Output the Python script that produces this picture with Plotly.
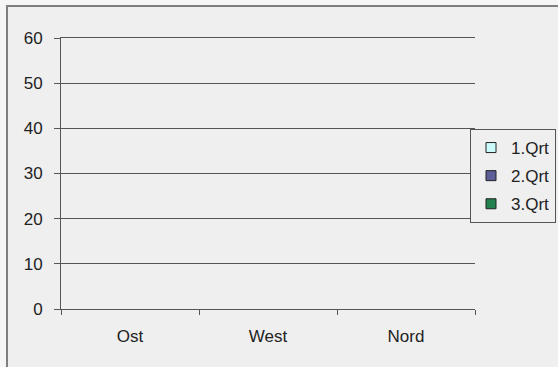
import plotly.graph_objects as go

# Regions and quarterly values
regions = ["Ost", "West", "Nord"]
q1 = [0, 0, 0]
q2 = [0, 0, 0]
q3 = [0, 0, 0]
series_names = ["1.Qrt", "2.Qrt", "3.Qrt"]
series_colors = ["#ccfbfb", "#5d5d99", "#23804f"]
y_ticks = [0, 10, 20, 30, 40, 50, 60]

W, H = 558, 367
L, R, T, B = 61, 475, 38, 309

fig = go.Figure()
for i, (name, vals) in enumerate(zip(series_names, [q1, q2, q3])):
    # Bars (outline only where the bar has height)
    fig.add_trace(go.Bar(
        x=regions, y=vals, name=name,
        legendgroup=f"g{i}", showlegend=False,
        marker=dict(color=series_colors[i],
                    line=dict(color="#333333", width=[0 if v == 0 else 1 for v in vals])),
    ))
    # Legend key: outlined square swatch
    fig.add_trace(go.Scatter(
        x=[None], y=[None], mode="markers", name=name,
        legendgroup=f"g{i}", showlegend=True,
        marker=dict(symbol="square", size=10, color=series_colors[i],
                    line=dict(color="#222222", width=1)),
    ))

# Chart frame
fig.add_shape(type="rect", xref="paper", yref="paper",
              x0=(7 - L) / (R - L), x1=(W + 5 - L) / (R - L),
              y0=(B - (H + 5)) / (B - T), y1=(B - 6) / (B - T),
              fillcolor="#efefef", line=dict(color="#7f7f7f", width=2),
              layer="below")

fig.update_layout(
    width=W, height=H,
    margin=dict(l=L, r=W - R, t=T, b=H - B, autoexpand=False),
    paper_bgcolor="#f6f6f6",
    plot_bgcolor="#efefef",
    font=dict(family="Liberation Sans, Arial, sans-serif", size=17, color="#222222"),
    barmode="group",
    bargap=0.4,
    showlegend=True,
    legend=dict(
        x=(470 - L) / (R - L), xanchor="left",
        y=(B - 129) / (B - T), yanchor="top",
        bgcolor="#efefef", bordercolor="#555555", borderwidth=1,
        tracegroupgap=3,
        font=dict(size=17, color="#222222"),
        itemwidth=30,
    ),
    xaxis=dict(
        type="category", showgrid=False, zeroline=False,
        showline=True, mirror=True, linecolor="#555555", linewidth=1,
        ticks="outside", ticklen=5, tickcolor="#555555",
        tickson="boundaries",
        ticklabelstandoff=12,
    ),
    yaxis=dict(
        range=[0, 60], tickvals=y_ticks,
        showgrid=True, gridcolor="#555555", gridwidth=1,
        zeroline=False, showline=True, linecolor="#555555", linewidth=1,
        ticks="outside", ticklen=6, tickcolor="#555555",
        ticklabelstandoff=8,
    ),
)

fig.write_html("out.html")
